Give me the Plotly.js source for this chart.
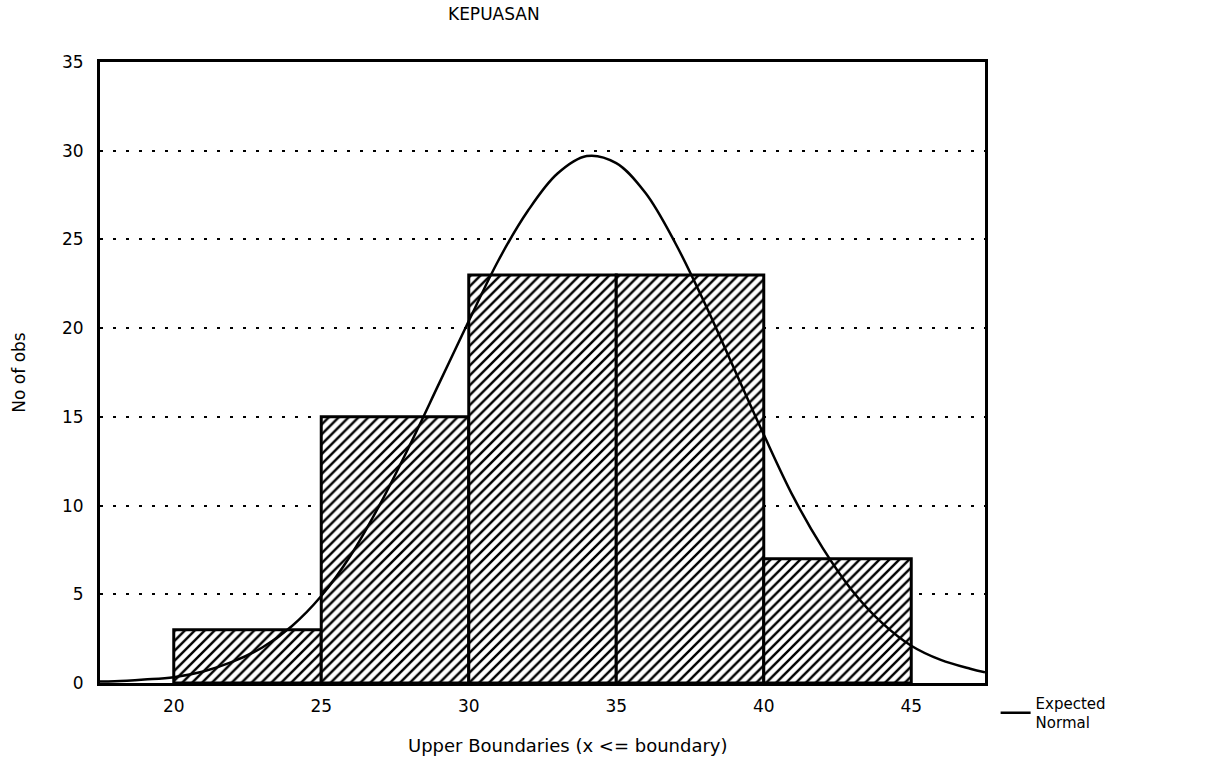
<!DOCTYPE html>
<html>
<head>
<meta charset="utf-8">
<script src="https://cdn.plot.ly/plotly-3.0.1.min.js"></script>
<style>html,body{margin:0;padding:0;background:#fff;}#chart{width:1209px;height:770px;}</style>
</head>
<body>
<div id="chart"></div>
<script>
// Histogram: upper boundaries of each bin and observed counts
const upperBoundaries = [25, 30, 35, 40, 45];
const binWidth = 5;
const counts = [3, 15, 23, 23, 7];

// Expected normal curve
const curveX = [17.5, 18, 19, 20, 21, 22, 23, 24, 25, 26, 27, 28, 29, 30, 31, 32, 33, 34, 35, 36, 37, 38, 39, 40, 41, 42, 43, 44, 45, 46, 47, 47.5];
const curveY = [0.08, 0.1, 0.2, 0.33, 0.65, 1.2, 2.0, 3.2, 4.9, 7.2, 10.1, 13.4, 16.9, 20.4, 23.8, 26.6, 28.7, 29.7, 29.3, 27.6, 24.8, 21.4, 17.7, 14.0, 10.5, 7.6, 5.2, 3.4, 2.1, 1.3, 0.8, 0.6];

const tickVals = [20, 25, 30, 35, 40, 45];
const yTickVals = [0, 5, 10, 15, 20, 25, 30, 35];

const fontFam = 'DejaVu Sans, Verdana, sans-serif';

const traces = [
  {
    type: 'bar',
    x: upperBoundaries,
    y: counts,
    width: binWidth,
    offset: -binWidth,
    marker: {
      color: '#ffffff',
      line: {color: '#000000', width: 3},
      pattern: {shape: '/', fgcolor: '#000000', bgcolor: '#ffffff', size: 7, solidity: 0.35}
    },
    showlegend: false,
    hoverinfo: 'skip'
  },
  {
    type: 'scatter',
    mode: 'lines',
    x: curveX,
    y: curveY,
    line: {color: '#000000', width: 2.5, shape: 'spline', smoothing: 1},
    name: 'Expected<br>Normal',
    showlegend: true
  }
];

const layout = {
  width: 1209,
  height: 770,
  paper_bgcolor: '#ffffff',
  plot_bgcolor: '#ffffff',
  margin: {l: 100, r: 224, t: 62, b: 87},
  bargap: 0,
  title: {
    text: 'KEPUASAN',
    font: {family: fontFam, size: 17, color: '#000'},
    x: 0.445, xanchor: 'center', xref: 'paper',
    y: 0.982, yanchor: 'middle'
  },
  xaxis: {
    range: [17.5, 47.5],
    tickvals: tickVals,
    showgrid: false,
    zeroline: false,
    showline: true, mirror: true, linecolor: '#000', linewidth: 3,
    ticks: '',
    tickfont: {family: fontFam, size: 17, color: '#000'},
    ticklabelstandoff: 6
  },
  yaxis: {
    range: [0, 35],
    tickvals: yTickVals,
    showgrid: true,
    gridcolor: '#000',
    gridwidth: 2,
    griddash: '3px,10px',
    zeroline: false,
    showline: true, mirror: true, linecolor: '#000', linewidth: 3,
    ticks: '',
    tickfont: {family: fontFam, size: 17, color: '#000'},
    ticklabelstandoff: 10,
    title: {text: 'No of obs', font: {family: fontFam, size: 17, color: '#000'}, standoff: 33}
  },
  annotations: [
    {
      text: 'Upper Boundaries (x <= boundary)',
      xref: 'paper', yref: 'paper',
      x: 0.529, y: -0.1, xanchor: 'center', yanchor: 'middle',
      showarrow: false,
      font: {family: fontFam, size: 18, color: '#000'}
    }
  ],
  legend: {
    x: 1.012, xanchor: 'left',
    y: -0.006, yanchor: 'top',
    font: {family: fontFam, size: 15, color: '#000'},
    bgcolor: 'rgba(0,0,0,0)',
    itemwidth: 30,
    tracegroupgap: 0
  },
  showlegend: true
};

Plotly.newPlot('chart', traces, layout, {displayModeBar: false, staticPlot: true});
</script>
</body>
</html>
